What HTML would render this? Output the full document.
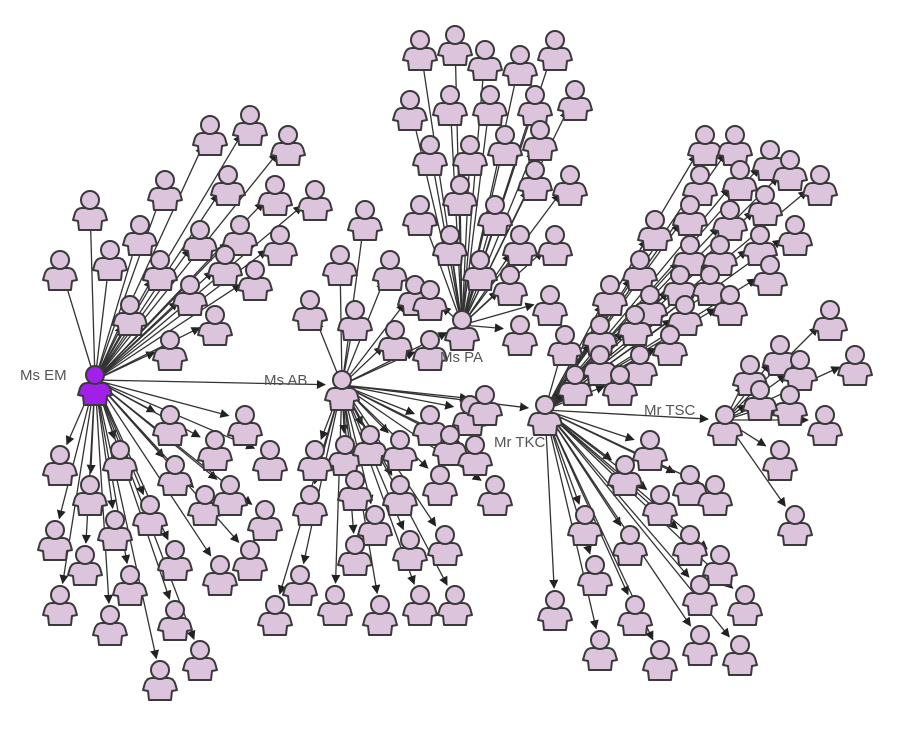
<!DOCTYPE html>
<html><head><meta charset="utf-8"><style>
html,body{margin:0;padding:0;background:#fff;}
svg{display:block;}
text{font-family:"Liberation Sans",sans-serif;}
</style></head><body>
<svg id="net" width="900" height="730" viewBox="0 0 900 730" xmlns="http://www.w3.org/2000/svg">
<defs><marker id="ah" viewBox="0 0 10 10" refX="9" refY="5" markerWidth="7" markerHeight="7" orient="auto"><path d="M0,0L10,5L0,10z" fill="#222"/></marker></defs>
<g id="edges"></g><g id="nodes"></g><g id="labels"></g>
</svg>
<script>
const hubs = [["EM",95,380],["AB",342,385],["PA",462,325],["TKC",545,410],["TSC",725,420]];
const hubLabels = ["Ms EM","Ms AB","Ms PA","Mr TKC","Mr TSC"];
const emChildren = [[60,265],[90,205],[110,255],[140,230],[165,185],[210,130],[250,120],[288,140],[228,180],[275,190],[315,195],[200,235],[240,230],[280,240],[160,265],[190,290],[225,260],[255,275],[130,310],[170,345],[215,320],
[60,460],[55,535],[60,600],[90,490],[85,560],[110,620],[120,455],[115,525],[130,580],[150,510],[170,420],[175,470],[175,555],[175,615],[160,675],[200,655],[215,445],[205,500],[230,490],[220,570],[245,420],[250,555],[270,455],[265,515]];
const abChildren = [[365,215],[340,260],[310,305],[355,315],[390,265],[415,290],[395,335],[430,345],
[310,500],[275,610],[300,580],[335,600],[345,450],[355,485],[370,440],[375,520],[380,610],[355,550],[400,445],[400,490],[410,545],[420,600],[430,420],[440,480],[445,540],[455,600],[450,440],[470,410],[475,450],[495,490],[485,400],[315,455]];
const paChildren = [[420,45],[455,40],[485,55],[520,60],[555,45],[410,105],[450,100],[490,100],[535,100],[575,95],[430,150],[470,150],[505,140],[540,135],[420,210],[460,190],[495,210],[535,175],[570,180],[450,240],[480,265],[520,240],[555,240],[510,280],[550,300],[520,330],[430,295]];
const tkcChildren = [[705,140],[735,140],[770,155],[700,180],[740,175],[790,165],[820,180],[690,210],[730,215],[765,200],[795,230],[655,225],[690,250],[720,250],[760,240],[640,265],[680,280],[710,280],[770,270],[610,290],[650,300],[685,310],[730,300],[600,330],[635,320],[670,340],[565,340],[600,360],[640,360],[575,380],[620,380],
[555,605],[585,520],[595,570],[600,645],[625,470],[630,540],[635,610],[650,445],[660,500],[660,655],[690,480],[690,540],[700,590],[700,640],[715,490],[745,600],[740,650],[720,560]];
const tscChildren = [[830,315],[855,360],[780,350],[750,370],[800,365],[790,400],[760,395],[825,420],[780,455],[795,520]];
const hubLinks = [[0,1],[1,2],[1,3],[3,4]];

const NS="http://www.w3.org/2000/svg";
const E=document.getElementById('edges'),N=document.getElementById('nodes'),L=document.getElementById('labels');
function edge(a,b){
  const dx=b[0]-a[0],dy=b[1]-a[1],d=Math.hypot(dx,dy),s=Math.min(17,d*0.4);
  const l=document.createElementNS(NS,'line');
  l.setAttribute('x1',a[0]);l.setAttribute('y1',a[1]);
  l.setAttribute('x2',b[0]-dx/d*s);l.setAttribute('y2',b[1]-dy/d*s);
  l.setAttribute('stroke','#333');l.setAttribute('stroke-width','1.3');
  l.setAttribute('marker-end','url(#ah)');
  
  
  E.appendChild(l);
}
function person(x,y,fill,name){
  const g=document.createElementNS(NS,'g');
  
  
  const st='stroke="#3a3a3a" stroke-width="2" stroke-linejoin="round" fill="'+fill+'"';
  const p=(dx,dy)=>(x+dx)+','+(y+dy);
  g.innerHTML='<path d="M'+p(-8,3)+' L'+p(8,3)+' Q'+p(13,3)+' '+p(15,8)+' L'+p(17,15)+' L'+p(12,16)+' L'+p(11,25)+' L'+p(-11,25)+' L'+p(-12,16)+' L'+p(-17,15)+' L'+p(-15,8)+' Q'+p(-13,3)+' '+p(-8,3)+' Z" '+st+'/>'+
   '<circle cx="'+x+'" cy="'+(y-5)+'" r="9" '+st+'/>';
  N.appendChild(g);
}
const groups=[[0,emChildren],[1,abChildren],[2,paChildren],[3,tkcChildren],[4,tscChildren]];
groups.forEach(([h,arr])=>arr.forEach(c=>edge([hubs[h][1],hubs[h][2]],c)));
hubLinks.forEach(([a,b])=>edge([hubs[a][1],hubs[a][2]],[hubs[b][1],hubs[b][2]]));
groups.forEach(([h,arr])=>arr.forEach(c=>person(c[0],c[1],'#dcc4dc','person-node')));
hubs.forEach((h,i)=>person(h[1],h[2],i===0?'#a020e8':'#dcc4dc','hub-'+h[0].toLowerCase()));
const lp=[[20,380],[264,385],[440,362],[494,447],[644,415]];
hubLabels.forEach((t,i)=>{
  const tx=document.createElementNS(NS,'text');
  tx.setAttribute('x',lp[i][0]);tx.setAttribute('y',lp[i][1]);
  tx.setAttribute('font-size','15');tx.setAttribute('fill','#555');
  tx.textContent=t;
  
  
  L.appendChild(tx);
});
</script>
</body></html>
